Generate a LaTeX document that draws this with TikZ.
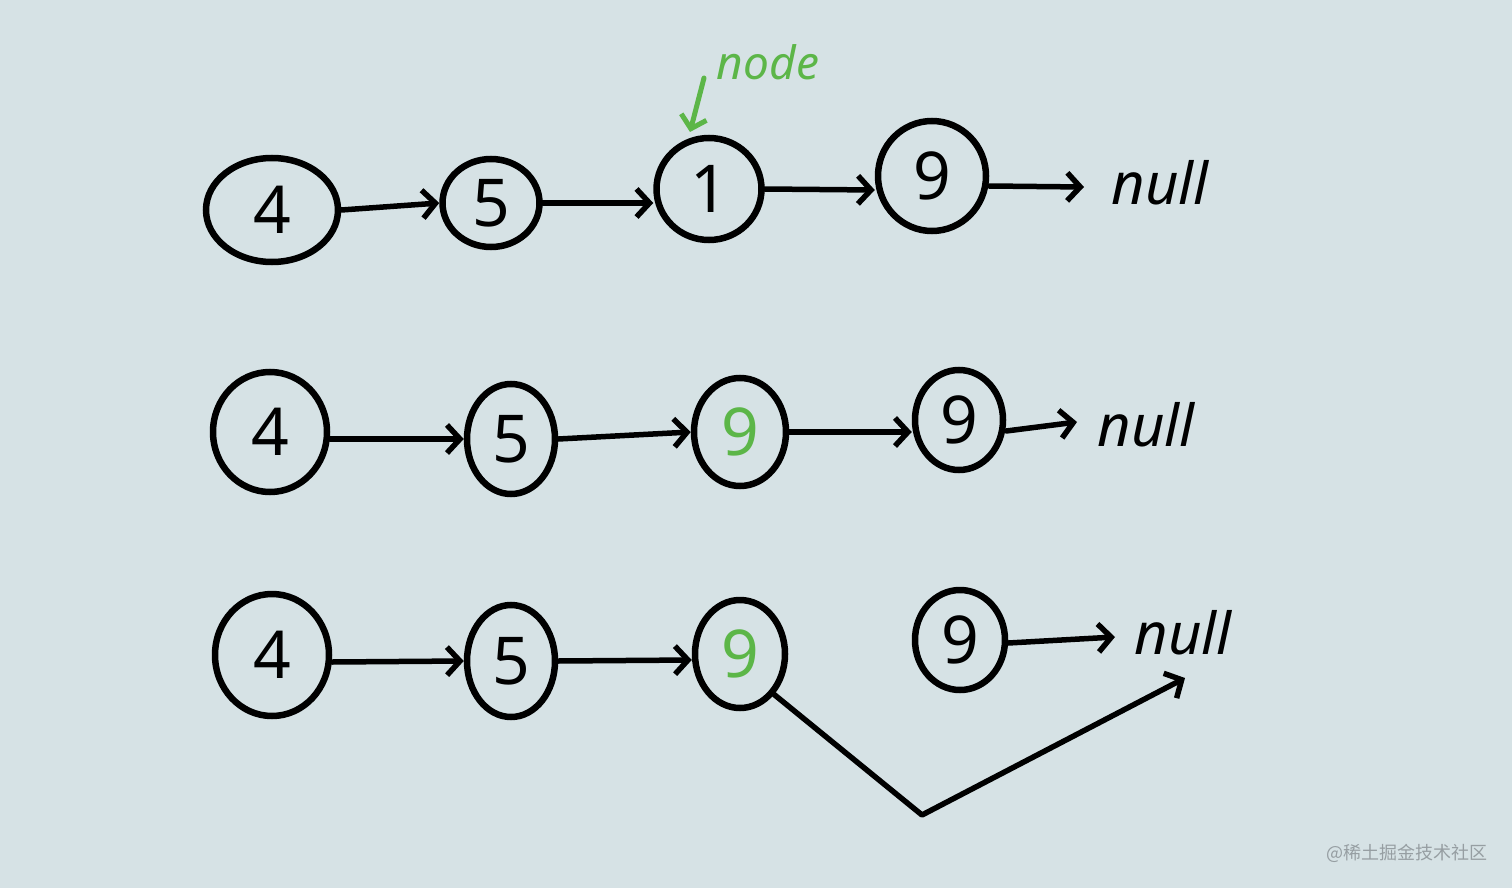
\documentclass[tikz,border=0pt]{standalone}
\usepackage{fontspec}
\setmainfont{Noto Sans}
\newfontfamily\cjkfont{Noto Sans CJK SC}
\usetikzlibrary{shapes.geometric,arrows.meta}
\definecolor{bg}{RGB}{214,226,229}
\definecolor{hgreen}{RGB}{92,182,72}
\definecolor{wm}{RGB}{150,158,162}
\tikzset{
  lnode/.style={draw=black,line width=6.5pt,ellipse,inner sep=0pt,font=\fontsize{66}{66}\selectfont},
  link/.style={line width=5.5pt,-{Straight Barb[length=13pt,width=28pt,line width=5.5pt]},line cap=round,line join=round},
  nulltext/.style={font=\fontsize{58}{58}\itshape\selectfont,inner sep=0pt},
}
\begin{document}
\begin{tikzpicture}[x=1pt,y=-1pt]
\fill[bg] (0,0) rectangle (1512,888);
\useasboundingbox (0,0) rectangle (1512,888);
% row 1
\node[lnode,minimum width=132pt,minimum height=104pt] (a4) at (272,210) {4};
\node[lnode,minimum width=97pt,minimum height=88pt] (a5) at (491,203) {5};
\node[lnode,minimum width=105pt,minimum height=102pt] (a1) at (709,189) {1};
\node[lnode,minimum width=108pt,minimum height=110pt] (a9) at (932,176) {9};
\node[nulltext] (an) at (1160,183) {null};
\coordinate (anl) at (1084,187);
\draw[link] (a4.east) -- (a5.west);
\draw[link] (a5.east) -- ([yshift=-14pt]a1.west);
\draw[link] (a1.east) -- ([yshift=-14pt]a9.west);
\draw[link] ([yshift=-10pt]a9.east) -- (anl);
\node[font=\fontsize{46}{46}\itshape\selectfont,text=hgreen,inner sep=0pt] (lbl) at (768,62) {node};
\coordinate (gtop) at (704,78);
\coordinate (gtip) at (690,132);
\draw[hgreen,line width=5pt,line cap=round,-{Straight Barb[length=12pt,width=26pt,line width=5pt]}] (gtop) -- (gtip);
% row 2
\node[lnode,minimum width=114pt,minimum height=120pt] (b4) at (270,432) {4};
\node[lnode,minimum width=88pt,minimum height=110pt] (b5) at (511,439) {5};
\node[lnode,minimum width=92pt,minimum height=108pt,text=hgreen] (b9g) at (740,432) {9};
\node[lnode,minimum width=88pt,minimum height=100pt] (b9) at (959,420) {9};
\node[nulltext] (bn) at (1146,425) {null};
\coordinate (bnl) at (1077,422);
\draw[link] ([yshift=-7pt]b4.east) -- (b5.west);
\draw[link] (b5.east) -- (b9g.west);
\draw[link] (b9g.east) -- ([yshift=-12pt]b9.west);
\draw[link] ([yshift=-11pt]b9.east) -- (bnl);
% row 3
\node[lnode,minimum width=114pt,minimum height=122pt] (c4) at (272,655) {4};
\node[lnode,minimum width=88pt,minimum height=112pt] (c5) at (511,661) {5};
\node[lnode,minimum width=90pt,minimum height=108pt,text=hgreen] (c9g) at (740,654) {9};
\node[lnode,minimum width=90pt,minimum height=100pt] (c9) at (960,640) {9};
\node[nulltext] (cn) at (1183,633) {null};
\coordinate (cnl) at (1115,637);
\coordinate (cbend) at (922,815);
\coordinate (ctip) at (1185,678);
\draw[link] ([yshift=-7pt]c4.east) -- (c5.west);
\draw[link] (c5.east) -- ([yshift=-6pt]c9g.west);
\draw[link] ([yshift=-3pt]c9.east) -- (cnl);
\draw[link] (c9g.south east) -- (cbend) -- (ctip);
% watermark
\node[font=\cjkfont\fontsize{18}{18}\selectfont,text=wm,anchor=east,inner sep=0pt] (wmk) at (1488,853) {@稀土掘金技术社区};
\end{tikzpicture}
\end{document}
